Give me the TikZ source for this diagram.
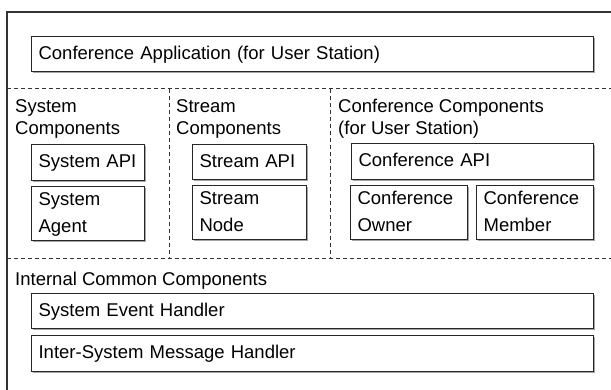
\documentclass[tikz,border=0pt]{standalone}
\usepackage{fontspec}
\setmainfont{Liberation Sans}
\usetikzlibrary{shadows}

\tikzset{
  comp/.style={draw=black!85, line width=1.2pt, fill=white,
    drop shadow={shadow xshift=1.8pt, shadow yshift=-1.8pt, opacity=.5, fill=black!70},
    anchor=north west, align=left, inner xsep=7pt, inner ysep=0pt,
    font=\fontsize{18.5}{27}\selectfont,
    execute at begin node=\strut, execute at end node=\strut},
  grp/.style={anchor=north west, align=left, inner sep=0pt,
    font=\fontsize{18.5}{22}\selectfont},
  sepline/.style={black!80, line width=1pt, dash pattern=on 4pt off 3pt}
}

\begin{document}
\begin{tikzpicture}[x=1pt, y=-1pt]
  \useasboundingbox (0,0) rectangle (611,390);
  \draw[black!80, line width=1.3pt] (611,12) -- (7,12) -- (7,390);

  \draw[sepline] (7,89) -- (611,89);
  \draw[sepline] (7,259) -- (611,259);
  \draw[sepline] (169,89) -- (169,259);
  \draw[sepline] (330,89) -- (330,259);

  \node[comp, text width=548pt, minimum height=35pt] (confapp) at (31,36) {Conference Application (for User Station)};

  \node[grp] (syscomp) at (15,99) {System\\Components};
  \node[grp] (strcomp) at (176,99) {Stream\\Components};
  \node[grp] (confcomp) at (338,98.5) {Conference Components\\(for User Station)};

  \node[comp, text width=99pt, minimum height=36pt] (sysapi) at (31,144) {System API};
  \node[comp, text width=99pt, minimum height=54pt] (sysagent) at (31,186) {System\\Agent};
  \node[comp, text width=100pt, minimum height=35pt] (strapi) at (192,144) {Stream API};
  \node[comp, text width=100pt, minimum height=54pt] (strnode) at (192,185) {Stream\\Node};
  \node[comp, text width=228pt, minimum height=36pt] (confapi) at (351,143) {Conference API};
  \node[comp, text width=103pt, minimum height=54pt] (confowner) at (350,185) {Conference\\Owner};
  \node[comp, text width=103pt, minimum height=54pt] (confmember) at (476,185) {Conference\\Member};

  \node[grp] (commcomp) at (15,272) {Internal Common Components};

  \node[comp, text width=548pt, minimum height=35pt] (evthandler) at (31,293) {System Event Handler};
  \node[comp, text width=548pt, minimum height=36pt] (msghandler) at (31,335) {Inter-System Message Handler};
\end{tikzpicture}
\end{document}
